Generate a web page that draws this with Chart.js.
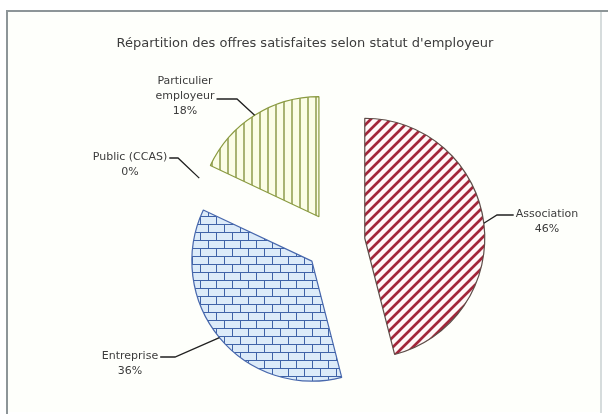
<!DOCTYPE html>
<html><head><meta charset="utf-8">
<script src="https://cdn.jsdelivr.net/npm/chart.js@4"></script>
<style>html,body{margin:0;padding:0;background:#fff}canvas{display:block}</style>
</head><body>
<canvas id="c" width="608" height="414"></canvas>
<script>
// ---- data ----
const TITLE = "Répartition des offres satisfaites selon statut d'employeur";
const categories = ['Association', 'Entreprise', 'Public (CCAS)', 'Particulier employeur'];
const labelLines = [['Association'], ['Entreprise'], ['Public (CCAS)'], ['Particulier', 'employeur']];
const values = [46, 36, 0, 18];

// ---- style / layout ----
const FONT = 'DejaVu Sans, sans-serif';
const TEXT_COLOR = '#3c3c3c';
const EXPLODE = 30;
const RADIUS = 120;
const LINE_H = 15;
const LABEL_LAYOUT = [
  { cx: 547, y: 214, elbow: [497, 215], side: 'right' },
  { cx: 130, y: 356, elbow: [175, 357], side: 'left' },
  { cx: 130, y: 157, elbow: [178, 158], side: 'left' },
  { cx: 185, y: 81, elbow: [237, 99], side: 'left' }
];

function tile(w, h, draw) {
  const c = document.createElement('canvas');
  c.width = w; c.height = h;
  const g = c.getContext('2d');
  draw(g, w, h);
  return g.createPattern(c, 'repeat');
}
const patDiag = tile(10, 10, (g, w, h) => {
  g.fillStyle = '#fff8f8'; g.fillRect(0, 0, w, h);
  g.strokeStyle = '#a2263a'; g.lineWidth = 2.7; g.lineCap = 'square';
  g.beginPath();
  g.moveTo(-2, 12); g.lineTo(12, -2);
  g.moveTo(-2, 2); g.lineTo(2, -2);
  g.moveTo(8, 12); g.lineTo(12, 8);
  g.stroke();
});
const patBrick = tile(16, 16, (g, w, h) => {
  g.fillStyle = '#dcebf9'; g.fillRect(0, 0, w, h);
  g.strokeStyle = '#3f63a8'; g.lineWidth = 1;
  g.beginPath();
  g.moveTo(0, 0.5); g.lineTo(16, 0.5);
  g.moveTo(0, 8.5); g.lineTo(16, 8.5);
  g.moveTo(0.5, 0); g.lineTo(0.5, 8);
  g.moveTo(8.5, 8); g.lineTo(8.5, 16);
  g.stroke();
});
const patVert = tile(8, 8, (g, w, h) => {
  g.fillStyle = '#fbfde6'; g.fillRect(0, 0, w, h);
  g.strokeStyle = '#7c8c35'; g.lineWidth = 1.3;
  g.beginPath(); g.moveTo(4, 0); g.lineTo(4, 8); g.stroke();
});

const frameAndExplode = {
  id: 'frameAndExplode',
  beforeDraw(chart) {
    const g = chart.ctx;
    g.save();
    g.fillStyle = '#ffffff';
    g.fillRect(0, 0, chart.width, chart.height);
    g.fillStyle = '#fefffb';
    g.fillRect(8, 12, 593, 400);
    g.strokeStyle = '#c8d0d2'; g.lineWidth = 1.5;
    g.beginPath(); g.moveTo(601, 12); g.lineTo(601, 413); g.stroke();
    g.strokeStyle = '#8d9598'; g.lineWidth = 2;
    g.beginPath(); g.moveTo(7, 414); g.lineTo(7, 11); g.lineTo(608, 11); g.stroke();
    g.restore();
  },
  beforeDatasetsDraw(chart) {
    const ca = chart.chartArea;
    const cx = (ca.left + ca.right) / 2, cy = (ca.top + ca.bottom) / 2;
    chart.getDatasetMeta(0).data.forEach(el => {
      const mid = (el.startAngle + el.endAngle) / 2;
      el.x = cx + EXPLODE * Math.cos(mid);
      el.y = cy + EXPLODE * Math.sin(mid);
    });
  },
  afterDatasetsDraw(chart) {
    const g = chart.ctx;
    const total = values.reduce((a, b) => a + b, 0);
    g.save();
    g.font = '11px ' + FONT;
    g.fillStyle = TEXT_COLOR;
    g.textAlign = 'center';
    g.textBaseline = 'middle';
    chart.getDatasetMeta(0).data.forEach((el, i) => {
      const L = LABEL_LAYOUT[i];
      const lines = labelLines[i].concat([Math.round(values[i] / total * 100) + '%']);
      const w = Math.max(...lines.map(t => g.measureText(t).width));
      lines.forEach((t, k) => g.fillText(t, L.cx, L.y + k * LINE_H));
      const mid = (el.startAngle + el.endAngle) / 2;
      const px = el.x + el.outerRadius * Math.cos(mid);
      const py = el.y + el.outerRadius * Math.sin(mid);
      const edge = L.side === 'right' ? L.cx - w / 2 - 2 : L.cx + w / 2 + 2;
      g.strokeStyle = '#202020'; g.lineWidth = 1.3;
      g.beginPath();
      g.moveTo(px, py); g.lineTo(L.elbow[0], L.elbow[1]); g.lineTo(edge, L.elbow[1]);
      g.stroke();
    });
    g.font = '13px ' + FONT;
    g.fillText(TITLE, 305, 44);
    g.restore();
  }
};

new Chart(document.getElementById('c'), {
  type: 'pie',
  data: {
    labels: categories,
    datasets: [{
      data: values,
      backgroundColor: [patDiag, patBrick, '#dddddd', patVert],
      borderColor: ['#5e4d48', '#4868ad', '#888888', '#8a9a40'],
      borderWidth: 1.2,
      radius: RADIUS
    }]
  },
  options: {
    responsive: false,
    animation: false,
    events: [],
    layout: { padding: { left: 70, right: 8, top: 72, bottom: 2 } },
    plugins: { legend: { display: false }, title: { display: false }, tooltip: { enabled: false } }
  },
  plugins: [frameAndExplode]
});
</script>
</body></html>
